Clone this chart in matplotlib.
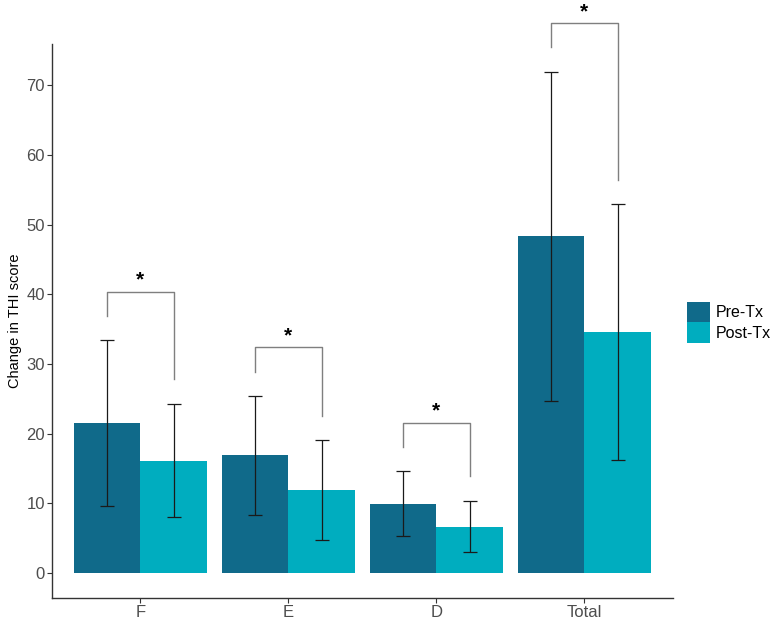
import numpy as np
import matplotlib
matplotlib.use("Agg")
import matplotlib.pyplot as plt

plt.rcParams['font.family'] = ['Liberation Sans', 'DejaVu Sans']

# values
kategoriler = ["F", "E", "D", "Total"]
pre_mean = [21.5, 16.9, 9.9, 48.3]
pre_low = [9.7, 8.4, 5.3, 24.7]
pre_high = [33.4, 25.4, 14.6, 71.9]
post_mean = [16.1, 11.9, 6.6, 34.6]
post_low = [8.0, 4.7, 3.0, 16.2]
post_high = [24.3, 19.1, 10.4, 52.9]
gruplar = ["Pre-Tx", "Post-Tx"]
renkler = ["#106a8a", "#00adbf"]

x = np.arange(1, len(kategoriler) + 1)
w = 0.45

fig = plt.figure(figsize=(7.75, 6.22), dpi=100)
ax = fig.add_axes([51.7 / 775, 1 - 598.3 / 622, (673 - 51.7) / 775, (598.3 - 44) / 622])

ax.bar(x - w / 2, pre_mean, width=w, color=renkler[0], label=gruplar[0], zorder=1)
ax.bar(x + w / 2, post_mean, width=w, color=renkler[1], label=gruplar[1], zorder=1)

def hata(xs, m, lo, hi):
    m = np.array(m)
    yerr = [m - np.array(lo), np.array(hi) - m]
    ax.errorbar(xs, m, yerr=yerr, fmt="none", ecolor="#1a1a1a", elinewidth=0.9,
                capsize=5.3, capthick=0.9, zorder=3)

hata(x - w / 2, pre_mean, pre_low, pre_high)
hata(x + w / 2, post_mean, post_low, post_high)

# significance brackets above the error bars
bosluk = 3.5
for i in range(len(kategoriler)):
    sol = pre_high[i] + bosluk
    sag = post_high[i] + bosluk
    ust = max(sol, sag) + bosluk
    x1 = x[i] - w / 2
    x2 = x[i] + w / 2
    ax.plot([x1, x1, x2, x2], [sol, ust, ust, sag], color="#7f7f7f", lw=1.0,
            clip_on=False, zorder=4)
    ax.text((x1 + x2) / 2, ust + 0.3, "*", ha="center", va="bottom",
            fontsize=15, fontweight="bold", color="black", clip_on=False)

ax.set_xlim(0.4, 4.6)
ax.set_ylim(-3.6, 75.9)
ax.set_xticks(x)
ax.set_xticklabels(kategoriler)
ax.set_yticks(np.arange(0, 71, 10))
ax.set_ylabel("Change in THI score", fontsize=10.5, color="black", labelpad=3)

for s in ["top", "right"]:
    ax.spines[s].set_visible(False)
for s in ["left", "bottom"]:
    ax.spines[s].set_color("#333333")
    ax.spines[s].set_linewidth(1.0)
ax.tick_params(axis="both", colors="#333333", length=3.5, width=0.8,
               labelsize=12, labelcolor="#4d4d4d", pad=1.5)

leg = fig.legend(loc="upper left", bbox_to_anchor=(684 / 775, 1 - 298.5 / 622),
                 frameon=False, fontsize=11.5, handlelength=1.45, handleheight=1.6,
                 handletextpad=0.35, labelspacing=0.0, borderpad=0.2,
                 borderaxespad=0)

fig.savefig("out.png", dpi=100)
